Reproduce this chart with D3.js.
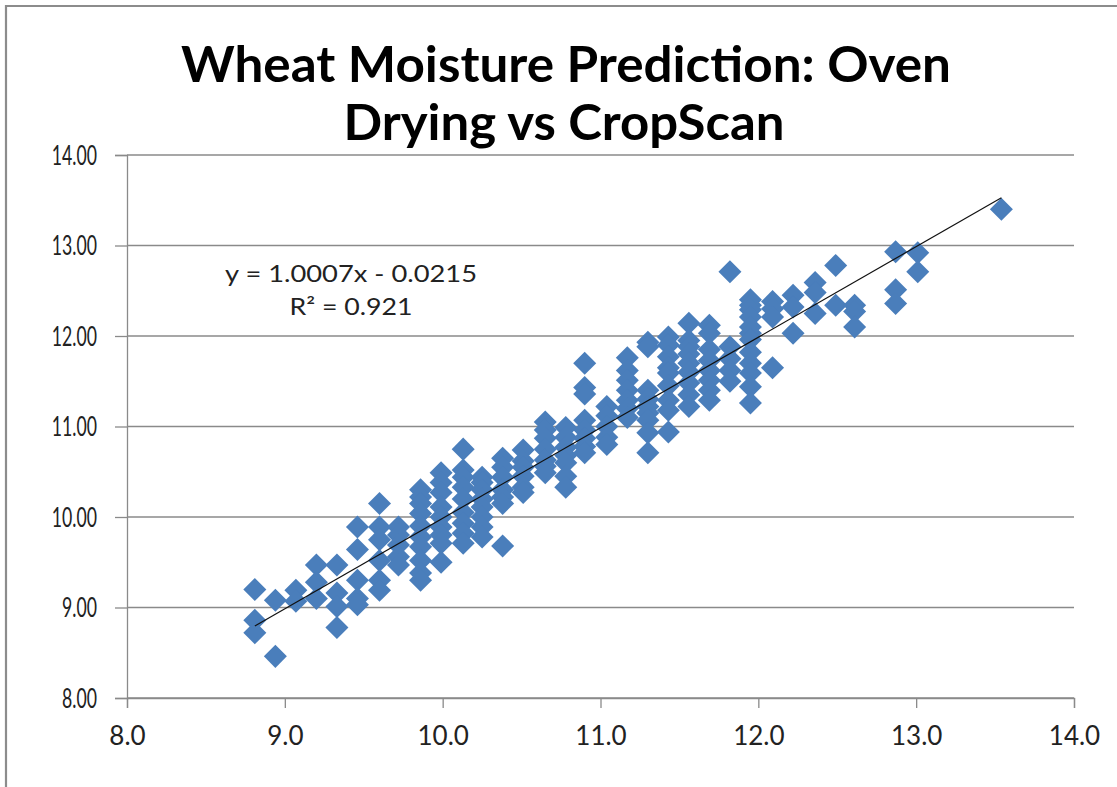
<!DOCTYPE html>
<html>
<head>
<meta charset="utf-8">
<script src="https://cdn.jsdelivr.net/npm/d3@7"></script>
<style>
  html, body { margin: 0; padding: 0; background: #fff; }
  svg { display: block; font-family: Lato, "Open Sans", sans-serif; }
</style>
</head>
<body>
<div id="chart"></div>
<script>
// ---------- Data ----------
const xTicks = [8, 9, 10, 11, 12, 13, 14];
const yTicks = [8, 9, 10, 11, 12, 13, 14];

// oven drying moisture levels (x) and the CropScan readings found at each level (y)
const ovenLevels = [8.81, 8.94, 9.07, 9.20, 9.33, 9.46, 9.60, 9.72, 9.86, 9.99, 10.13, 10.25,
  10.38, 10.51, 10.65, 10.78, 10.90, 11.04, 11.17, 11.30, 11.43, 11.56, 11.69, 11.82, 11.95,
  12.09, 12.22, 12.36, 12.49, 12.61, 12.87, 13.01, 13.54];
const cropScanByLevel = [
  [9.20, 8.86, 8.72],
  [9.08, 8.46],
  [9.19, 9.07],
  [9.47, 9.28, 9.10],
  [9.47, 9.16, 9.01, 8.78],
  [9.89, 9.64, 9.30, 9.10, 9.03],
  [10.15, 9.89, 9.75, 9.52, 9.30, 9.19],
  [9.89, 9.80, 9.69, 9.56, 9.47],
  [10.30, 10.22, 10.15, 10.04, 9.90, 9.78, 9.67, 9.52, 9.38, 9.30],
  [10.49, 10.38, 10.27, 10.11, 10.00, 9.89, 9.80, 9.71, 9.50],
  [10.75, 10.52, 10.44, 10.33, 10.20, 10.05, 9.93, 9.82, 9.71],
  [10.44, 10.38, 10.30, 10.20, 10.11, 10.00, 9.89, 9.78],
  [10.65, 10.55, 10.44, 10.30, 10.22, 10.15, 9.68],
  [10.74, 10.62, 10.55, 10.45, 10.33, 10.27],
  [11.05, 10.96, 10.87, 10.75, 10.63, 10.56, 10.49],
  [10.99, 10.88, 10.77, 10.68, 10.60, 10.45, 10.33],
  [11.70, 11.43, 11.36, 11.07, 10.96, 10.87, 10.78, 10.71],
  [11.22, 11.12, 11.00, 10.88, 10.80],
  [11.76, 11.62, 11.51, 11.40, 11.29, 11.20, 11.10],
  [11.93, 11.88, 11.40, 11.30, 11.22, 11.15, 11.07, 10.93, 10.71],
  [11.99, 11.90, 11.77, 11.65, 11.59, 11.45, 11.29, 11.18, 10.94],
  [12.14, 11.95, 11.88, 11.80, 11.70, 11.60, 11.48, 11.35, 11.22],
  [12.12, 12.03, 11.85, 11.73, 11.62, 11.51, 11.40, 11.29],
  [12.71, 11.88, 11.75, 11.62, 11.50],
  [12.40, 12.34, 12.29, 12.21, 12.10, 12.03, 11.96, 11.82, 11.70, 11.59, 11.44, 11.26],
  [12.38, 12.30, 12.21, 11.65],
  [12.45, 12.32, 12.03],
  [12.59, 12.48, 12.25],
  [12.78, 12.34],
  [12.34, 12.27, 12.10],
  [12.93, 12.51, 12.36],
  [12.92, 12.71],
  [13.40]
];

const trendSlope = 1.0007;
const trendIntercept = -0.0215;
const trendR2 = 0.921;

const titleLines = ["Wheat Moisture Prediction: Oven", "Drying vs CropScan"];

// ---------- Setup ----------
const W = 1117, H = 787;
const BLUE = "#4a7ebb";
const GRID = "#8a8a8a";

const points = ovenLevels.flatMap((x, i) => cropScanByLevel[i].map((y) => ({ x, y })));

const svg = d3.select("#chart").append("svg").attr("width", W).attr("height", H);
svg.append("rect").attr("width", W).attr("height", H).attr("fill", "#fff");

// chart frame (only top and left edges are inside the picture)
svg.append("path")
  .attr("d", `M6,${H} L6,6 L${W},6`)
  .attr("fill", "none")
  .attr("stroke", "#8c8c8c")
  .attr("stroke-width", 2.2);

const x = d3.scaleLinear().domain([8, 14]).range([127, 1074]);
const y = d3.scaleLinear().domain([8, 14]).range([698, 155]);

// squeeze text horizontally to mimic the narrow original face
function squeeze(sel, k) {
  sel.each(function () {
    const w = this.getComputedTextLength();
    d3.select(this).attr("textLength", w * k).attr("lengthAdjust", "spacingAndGlyphs");
  });
}

// ---------- Gridlines ----------
svg.append("g")
  .selectAll("line")
  .data(yTicks)
  .enter()
  .append("line")
  .attr("x1", x(8))
  .attr("x2", x(14))
  .attr("y1", (d) => y(d))
  .attr("y2", (d) => y(d))
  .attr("stroke", GRID)
  .attr("stroke-width", 1.3);

// ---------- Axes ----------
const yAxis = svg.append("g")
  .attr("transform", `translate(${x(8)},0)`)
  .call(d3.axisLeft(y).tickValues(yTicks).tickSize(12).tickPadding(18).tickFormat(d3.format(".2f")));

const xAxis = svg.append("g")
  .attr("transform", `translate(0,${y(8)})`)
  .call(d3.axisBottom(x).tickValues(xTicks).tickSize(10).tickPadding(18).tickFormat(d3.format(".1f")));

[yAxis, xAxis].forEach((g) => {
  g.select(".domain").attr("stroke", GRID).attr("stroke-width", 1.3);
  g.selectAll(".tick line").attr("stroke", GRID).attr("stroke-width", 1.3);
  g.selectAll(".tick text")
    .attr("fill", "#222")
    .attr("font-family", "Lato, sans-serif")
    .attr("font-size", 26);
});
yAxis.selectAll(".tick text").attr("dy", "0.36em");
squeeze(yAxis.selectAll(".tick text"), 0.68);
xAxis.selectAll(".tick text").attr("dy", "0.72em");

// ---------- Points ----------
const diamond = d3.symbol().type(d3.symbolSquare).size(265);
svg.append("g")
  .selectAll("path")
  .data(points)
  .enter()
  .append("path")
  .attr("d", diamond)
  .attr("transform", (d) => `translate(${x(d.x)},${y(d.y)}) rotate(45)`)
  .attr("fill", BLUE);

// ---------- Trendline ----------
const [xMin, xMax] = d3.extent(points, (d) => d.x);
svg.append("line")
  .attr("x1", x(xMin))
  .attr("y1", y(trendSlope * xMin + trendIntercept))
  .attr("x2", x(xMax))
  .attr("y2", y(trendSlope * xMax + trendIntercept))
  .attr("stroke", "#111")
  .attr("stroke-width", 1.2);

// ---------- Equation ----------
const eq = svg.append("g")
  .attr("font-family", "Lato, sans-serif")
  .attr("font-size", 24)
  .attr("fill", "#222")
  .attr("text-anchor", "middle");
eq.append("text")
  .attr("x", 351)
  .attr("y", 282)
  .attr("textLength", 252)
  .attr("lengthAdjust", "spacingAndGlyphs")
  .text(`y = ${trendSlope.toFixed(4)}x - ${Math.abs(trendIntercept).toFixed(4)}`);
eq.append("text")
  .attr("x", 351)
  .attr("y", 315)
  .attr("textLength", 123)
  .attr("lengthAdjust", "spacingAndGlyphs")
  .text(`R² = ${trendR2}`);

// ---------- Title ----------
const title = svg.append("g")
  .attr("font-family", "Lato, sans-serif")
  .attr("font-weight", "bold")
  .attr("font-size", 49)
  .attr("fill", "#000")
  .attr("text-anchor", "middle");
title.append("text").attr("x", 566).attr("y", 82).attr("textLength", 770)
  .attr("lengthAdjust", "spacingAndGlyphs").text(titleLines[0]);
title.append("text").attr("x", 564).attr("y", 140).attr("textLength", 441)
  .attr("lengthAdjust", "spacingAndGlyphs").text(titleLines[1]);
</script>
</body>
</html>
